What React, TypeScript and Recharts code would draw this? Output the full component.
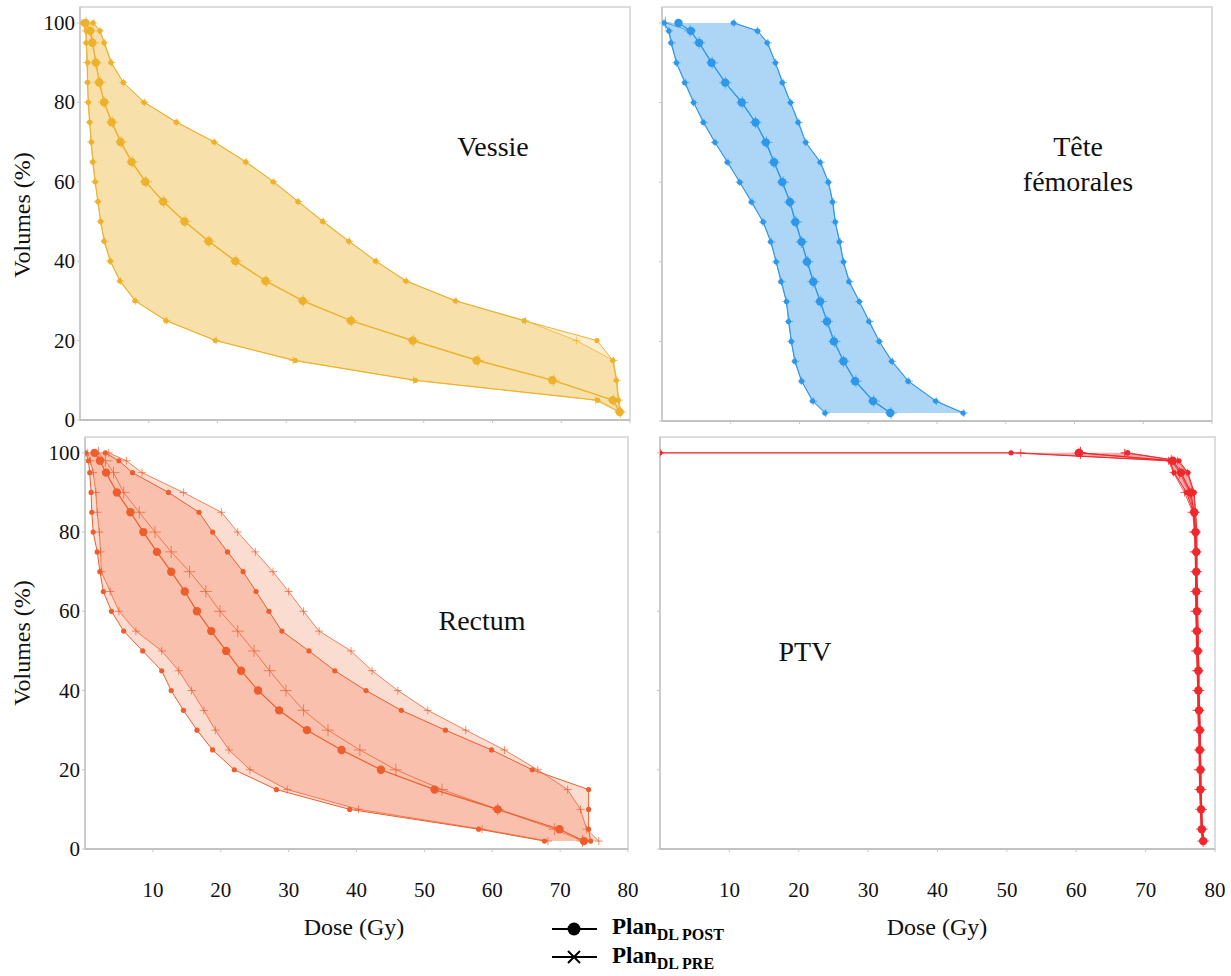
import React from "react";
import { ComposedChart, Area, Line, XAxis, YAxis, ReferenceArea } from "recharts";

// volume levels (%) at which each DVH is sampled
const volumes = [100, 98, 95, 90, 85, 80, 75, 70, 65, 60, 55, 50, 45, 40, 35, 30, 25, 20, 15, 10, 5, 2];
// PTV curves start at 0 Gy on the 100 % plateau, so 100 appears twice
const ptvVolumes = [100, 100, 98, 95, 90, 85, 80, 75, 70, 65, 60, 55, 50, 45, 40, 35, 30, 25, 20, 15, 10, 5, 2];
const doseTicks = [10, 20, 30, 40, 50, 60, 70, 80];
const volumeTicks = [0, 20, 40, 60, 80, 100];

// Vessie (dose in Gy)
const vessiePostMin = [0.4, 0.9, 0.9, 1.1, 1.1, 1.2, 1.4, 1.65, 1.85, 2.2, 2.6, 3.0, 3.5, 4.4, 5.8, 8.0, 12.5, 19.7, 31.3, 48.8, 75.3, 78.5];
const vessiePostMean = [0.8, 1.5, 1.8, 2.3, 2.8, 3.5, 4.6, 5.9, 7.5, 9.5, 12.1, 15.2, 18.7, 22.6, 27.0, 32.4, 39.4, 48.4, 57.7, 68.7, 77.5, 78.5];
const vessiePostMax = [1.9, 2.9, 3.5, 4.5, 6.3, 9.3, 14.0, 19.5, 24.1, 28.1, 31.7, 35.3, 39.1, 43.0, 47.4, 54.6, 64.6, 75.2, 77.5, 78.0, 78.3, 78.5];
const vessiePreMin = [0.3, 0.8, 0.9, 1.0, 1.1, 1.2, 1.4, 1.6, 1.9, 2.2, 2.6, 3.0, 3.6, 4.4, 5.9, 8.1, 12.6, 19.8, 31.0, 48.5, 75.0, 78.4];
const vessiePreMean = [0.9, 1.5, 1.9, 2.3, 2.9, 3.5, 4.7, 6.0, 7.6, 9.6, 12.2, 15.3, 18.8, 22.7, 27.1, 32.5, 39.5, 48.5, 57.9, 68.9, 77.6, 78.6];
const vessiePreMax = [2.0, 2.9, 3.6, 4.6, 6.3, 9.4, 14.1, 19.6, 24.2, 28.2, 31.8, 35.4, 39.2, 43.1, 47.5, 54.7, 64.8, 72.2, 77.6, 78.1, 78.4, 78.6];

// Tête fémorales
const tetePostMin = [0.3, 1.0, 1.3, 2.1, 3.3, 4.6, 6.0, 7.7, 9.5, 11.3, 13.0, 14.7, 15.8, 16.6, 17.3, 18.1, 18.4, 18.8, 19.3, 20.3, 21.9, 23.7];
const tetePostMean = [2.4, 4.2, 5.4, 7.2, 9.2, 11.6, 13.6, 15.1, 16.3, 17.5, 18.6, 19.4, 20.3, 21.1, 22.0, 23.0, 24.0, 25.0, 26.4, 28.1, 30.7, 33.2];
const tetePostMax = [10.4, 13.9, 15.3, 16.5, 17.5, 18.7, 19.8, 20.9, 23.0, 24.2, 24.8, 25.2, 25.8, 26.4, 27.2, 28.7, 30.1, 31.6, 33.4, 35.8, 39.8, 43.8];
const tetePreMin = [0.3, 1.0, 1.4, 2.1, 3.4, 4.6, 6.1, 7.7, 9.6, 11.3, 13.1, 14.7, 15.9, 16.6, 17.4, 18.1, 18.5, 18.8, 19.4, 20.3, 22.0, 23.8];
const tetePreMean = [0.5, 4.1, 5.4, 7.3, 9.2, 11.7, 13.6, 15.2, 16.3, 17.6, 18.6, 19.5, 20.3, 21.2, 22.0, 23.1, 24.0, 25.1, 26.4, 28.2, 30.8, 33.3];
const tetePreMax = [10.5, 13.9, 15.4, 16.5, 17.6, 18.7, 19.9, 20.9, 23.1, 24.2, 24.9, 25.2, 25.9, 26.4, 27.3, 28.7, 30.2, 31.6, 33.5, 35.9, 39.9, 43.9];

// Rectum
const rectumPostMin = [0.1, 0.5, 0.7, 0.9, 1.0, 1.2, 1.8, 2.2, 2.7, 3.9, 5.7, 8.5, 11.3, 12.7, 14.5, 16.5, 18.8, 22.0, 28.2, 39.0, 58.0, 67.7];
const rectumPostMean = [1.4, 2.2, 3.1, 4.7, 6.7, 8.6, 10.6, 12.7, 14.7, 16.5, 18.6, 20.8, 23.0, 25.5, 28.6, 32.7, 37.8, 43.6, 51.5, 60.8, 69.9, 73.5];
const rectumPostMax = [3.0, 5.0, 7.0, 12.3, 16.8, 18.8, 21.0, 23.3, 25.2, 27.1, 29.0, 33.0, 36.8, 41.4, 46.6, 53.1, 59.9, 65.9, 74.2, 74.2, 74.2, 74.5];
const rectumPreMin = [0.4, 0.8, 1.2, 1.6, 1.8, 2.1, 2.3, 2.4, 3.7, 5.0, 7.5, 11.3, 13.8, 15.7, 17.5, 19.2, 21.2, 24.3, 29.8, 40.3, 58.5, 68.2];
const rectumPreMean = [2.0, 3.0, 4.2, 5.7, 8.0, 10.3, 12.7, 15.4, 17.8, 19.9, 22.5, 24.9, 27.2, 29.6, 32.2, 35.8, 40.5, 45.8, 52.6, 60.8, 69.2, 73.3];
const rectumPreMax = [3.5, 6.1, 8.4, 14.5, 20.1, 22.5, 25.1, 27.7, 30.0, 32.2, 34.5, 39.2, 42.3, 46.1, 50.5, 56.1, 61.8, 66.7, 71.1, 73.0, 73.9, 75.7];

// PTV
const ptvPostMin = [0, 50.6, 73.5, 74.1, 75.9, 76.9, 77.1, 77.2, 77.2, 77.2, 77.3, 77.3, 77.4, 77.5, 77.5, 77.6, 77.7, 77.7, 77.8, 77.8, 77.9, 78.0, 78.2];
const ptvPostMean = [60.4, 60.4, 73.9, 75.1, 76.5, 77.0, 77.2, 77.3, 77.3, 77.3, 77.4, 77.4, 77.5, 77.6, 77.6, 77.7, 77.8, 77.8, 77.9, 77.9, 78.0, 78.1, 78.3];
const ptvPostMax = [67.4, 67.4, 74.8, 76.1, 77.0, 77.2, 77.4, 77.4, 77.4, 77.5, 77.5, 77.6, 77.6, 77.7, 77.7, 77.8, 77.9, 77.9, 78.0, 78.0, 78.1, 78.2, 78.4];
const ptvPreMin = [0, 52.0, 73.3, 74.0, 75.6, 76.8, 77.0, 77.1, 77.2, 77.2, 77.2, 77.3, 77.3, 77.4, 77.5, 77.5, 77.6, 77.7, 77.7, 77.8, 77.9, 78.0, 78.2];
const ptvPreMean = [60.6, 60.6, 73.7, 74.9, 76.3, 76.9, 77.1, 77.2, 77.3, 77.3, 77.3, 77.4, 77.4, 77.5, 77.6, 77.6, 77.7, 77.8, 77.8, 77.9, 78.0, 78.1, 78.3];
const ptvPreMax = [67.0, 67.0, 74.6, 76.0, 76.9, 77.2, 77.3, 77.4, 77.4, 77.4, 77.5, 77.5, 77.6, 77.7, 77.7, 77.8, 77.8, 77.9, 77.9, 78.0, 78.1, 78.2, 78.4];

const SERIF = '"Liberation Serif", "Times New Roman", serif';

function buildRows(vols: number[], postMin: number[], postMean: number[], postMax: number[], preMin: number[], preMean: number[], preMax: number[]) {
  return vols.map((vol, i) => ({
    vol,
    postMin: postMin[i],
    postMean: postMean[i],
    postMax: postMax[i],
    preMin: preMin[i],
    preMean: preMean[i],
    preMax: preMax[i],
    postBand: [postMin[i], postMax[i]],
    preBand: [preMin[i], preMax[i]],
  }));
}

const dot = (r: number, color: string) => (p: any) => (
  <circle key={`c-${p.index}`} cx={p.cx} cy={p.cy} r={r} fill={color} />
);

const plus = (s: number, color: string) => (p: any) => (
  <path
    key={`p-${p.index}`}
    d={`M${p.cx - s},${p.cy}H${p.cx + s}M${p.cx},${p.cy - s}V${p.cy + s}`}
    stroke={color}
    strokeWidth={1}
    strokeOpacity={0.7}
    fill="none"
  />
);

// tick renderers: labels only where the reference shows them
const xTick = (show: boolean) => (p: any) =>
  show ? (
    <text key={`x-${p.index}`} x={p.x} y={p.y + 38} textAnchor="middle" dominantBaseline="central"
      fontFamily={SERIF} fontSize={21} fill="#111">
      {p.payload.value}
    </text>
  ) : (
    <g key={`x-${p.index}`} />
  );

const yTick = (show: boolean) => (p: any) =>
  show ? (
    <text key={`y-${p.index}`} x={p.x + 2} y={p.y} textAnchor="end" dominantBaseline="central"
      fontFamily={SERIF} fontSize={21} fill="#111">
      {p.payload.value}
    </text>
  ) : (
    <g key={`y-${p.index}`} />
  );

type PanelProps = {
  rows: any[];
  color: string;
  left: number;
  top: number;
  width: number;
  height: number;
  margin: { top: number; right: number; bottom: number; left: number };
  yWidth: number;
  xHeight: number;
  showY: boolean;
  showX: boolean;
};

function DvhPanel({ rows, color, left, top, width, height, margin, yWidth, xHeight, showY, showX }: PanelProps) {
  return (
    <div style={{ position: "absolute", left, top, fontFamily: SERIF }}>
      <ComposedChart width={width} height={height} data={rows} layout="vertical" margin={margin}>
        <ReferenceArea x1={0} x2={80} y1={0} y2={104} fill="none" stroke="#d2d2d2" strokeWidth={1.5} />
        <XAxis
          type="number"
          domain={[0, 80]}
          ticks={doseTicks}
          interval={0}
          allowDataOverflow
          height={xHeight}
          axisLine={{ stroke: "#b9b9b9", strokeWidth: 1.5 }}
          tickLine={{ stroke: "#c6c6c6" }}
          tickSize={3}
          tickMargin={0}
          tick={xTick(showX)}
        />
        <YAxis
          type="number"
          dataKey="vol"
          domain={[0, 104]}
          reversed
          ticks={volumeTicks}
          interval={0}
          allowDataOverflow
          width={yWidth}
          axisLine={{ stroke: "#c6c6c6", strokeWidth: 1.5 }}
          tickLine={{ stroke: "#c6c6c6" }}
          tickSize={3}
          tickMargin={4}
          tick={yTick(showY)}
        />
        <Area dataKey="preBand" type="linear" stroke="none" fill={color} fillOpacity={0.22} isAnimationActive={false} activeDot={false} />
        <Area dataKey="postBand" type="linear" stroke="none" fill={color} fillOpacity={0.22} isAnimationActive={false} activeDot={false} />
        <Line dataKey="preMin" type="linear" stroke={color} strokeWidth={1} strokeOpacity={0.75} dot={plus(4, color)} activeDot={false} isAnimationActive={false} />
        <Line dataKey="preMax" type="linear" stroke={color} strokeWidth={1} strokeOpacity={0.75} dot={plus(4, color)} activeDot={false} isAnimationActive={false} />
        <Line dataKey="preMean" type="linear" stroke={color} strokeWidth={1} strokeOpacity={0.75} dot={plus(6, color)} activeDot={false} isAnimationActive={false} />
        <Line dataKey="postMin" type="linear" stroke={color} strokeWidth={1} dot={dot(2.6, color)} activeDot={false} isAnimationActive={false} />
        <Line dataKey="postMax" type="linear" stroke={color} strokeWidth={1} dot={dot(2.6, color)} activeDot={false} isAnimationActive={false} />
        <Line dataKey="postMean" type="linear" stroke={color} strokeWidth={1.2} dot={dot(4.2, color)} activeDot={false} isAnimationActive={false} />
      </ComposedChart>
    </div>
  );
}

const vessieRows = buildRows(volumes, vessiePostMin, vessiePostMean, vessiePostMax, vessiePreMin, vessiePreMean, vessiePreMax);
const teteRows = buildRows(volumes, tetePostMin, tetePostMean, tetePostMax, tetePreMin, tetePreMean, tetePreMax);
const rectumRows = buildRows(volumes, rectumPostMin, rectumPostMean, rectumPostMax, rectumPreMin, rectumPreMean, rectumPreMax);
const ptvRows = buildRows(ptvVolumes, ptvPostMin, ptvPostMean, ptvPostMax, ptvPreMin, ptvPreMean, ptvPreMax);

function Txt({ x, y, size, children, rotate }: { x: number; y: number; size: number; children: React.ReactNode; rotate?: boolean }) {
  return (
    <div
      style={{
        position: "absolute",
        left: x,
        top: y,
        transform: `translate(-50%, -50%)${rotate ? " rotate(-90deg)" : ""}`,
        fontFamily: SERIF,
        fontSize: size,
        lineHeight: 1.2,
        whiteSpace: "nowrap",
        color: "#111",
      }}
    >
      {children}
    </div>
  );
}

export default function App() {
  return (
    <div style={{ position: "absolute", left: 0, top: 0, width: 1231, height: 976, background: "#fff", overflow: "hidden" }}>
      <DvhPanel rows={vessieRows} color="#EDB12B" left={0} top={0} width={640} height={440}
        margin={{ top: 7, right: 10, bottom: 0, left: 20 }} yWidth={60} xHeight={20} showY showX={false} />
      <DvhPanel rows={teteRows} color="#2D97EA" left={640} top={0} width={591} height={440}
        margin={{ top: 7, right: 19, bottom: 0, left: 0 }} yWidth={22} xHeight={19} showY={false} showX={false} />
      <DvhPanel rows={rectumRows} color="#EE5E2C" left={0} top={430} width={640} height={490}
        margin={{ top: 7, right: 12, bottom: 0, left: 20 }} yWidth={65} xHeight={71} showY showX />
      <DvhPanel rows={ptvRows} color="#F0282C" left={640} top={430} width={591} height={490}
        margin={{ top: 7, right: 16, bottom: 0, left: 0 }} yWidth={20} xHeight={71} showY={false} showX />

      <Txt x={493} y={147} size={28}>Vessie</Txt>
      <Txt x={1078} y={147} size={28}>Tête</Txt>
      <Txt x={1078} y={182} size={28}>fémorales</Txt>
      <Txt x={482} y={621} size={28}>Rectum</Txt>
      <Txt x={805} y={652} size={28}>PTV</Txt>

      <Txt x={22} y={215} size={24} rotate>Volumes (%)</Txt>
      <Txt x={22} y={643} size={24} rotate>Volumes (%)</Txt>
      <Txt x={354} y={927} size={24}>Dose (Gy)</Txt>
      <Txt x={937} y={927} size={24}>Dose (Gy)</Txt>

      <svg style={{ position: "absolute", left: 540, top: 910 }} width={220} height={66}>
        <line x1={12} x2={57} y1={19} y2={19} stroke="#000" strokeWidth={2} />
        <circle cx={34} cy={19} r={6.5} fill="#000" />
        <text x={72} y={24} fontFamily={SERIF} fontWeight="bold" fontSize={23} fill="#000">
          Plan<tspan fontSize={16} dy={6}>DL POST</tspan>
        </text>
        <line x1={12} x2={57} y1={47} y2={47} stroke="#000" strokeWidth={2} />
        <path d="M28,41L40,53M40,41L28,53" stroke="#000" strokeWidth={2} />
        <text x={72} y={53} fontFamily={SERIF} fontWeight="bold" fontSize={23} fill="#000">
          Plan<tspan fontSize={16} dy={6}>DL PRE</tspan>
        </text>
      </svg>
    </div>
  );
}
